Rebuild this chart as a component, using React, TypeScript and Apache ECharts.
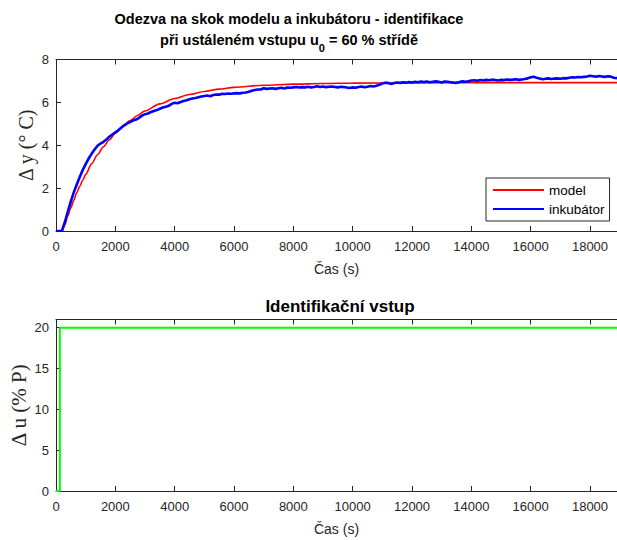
import React, { useEffect, useRef } from "react";
import * as echarts from "echarts";

// Step response of the identified first-order model, [t (s), Δy (°C)]
const modelResponse: [number, number][] = [
  [0, 0], [200, 0], [300, 0.3], [400, 0.7], [500, 1.08], [600, 1.44], [700, 1.78],
  [800, 2.08], [900, 2.37], [1000, 2.64], [1200, 3.13], [1400, 3.56], [1600, 3.93],
  [1800, 4.26], [2000, 4.56], [2250, 4.88], [2500, 5.15], [2750, 5.39], [3000, 5.6],
  [3500, 5.93], [4000, 6.18], [4500, 6.37], [5000, 6.51], [5500, 6.62], [6000, 6.7],
  [7000, 6.8], [8000, 6.85], [9000, 6.88], [10000, 6.9], [12000, 6.91], [14000, 6.92],
  [16000, 6.92], [18910, 6.92],
];

// Measured incubator temperature rise, [t (s), Δy (°C)]
const incubatorResponse: [number, number][] = [
  [0, 0], [100, 0], [200, 0.01], [300, 0.42], [400, 0.92], [500, 1.38], [600, 1.8], [700, 2.17], [800, 2.52], [900, 2.84],
  [1000, 3.12], [1100, 3.38], [1200, 3.6], [1300, 3.8], [1400, 3.98], [1500, 4.08], [1600, 4.16], [1700, 4.27], [1800, 4.4], [1900, 4.5],
  [2000, 4.6], [2100, 4.7], [2200, 4.82], [2300, 4.93], [2400, 5.02], [2500, 5.08], [2600, 5.16], [2700, 5.2], [2800, 5.28], [2900, 5.38],
  [3000, 5.45], [3100, 5.48], [3200, 5.55], [3300, 5.6], [3400, 5.64], [3500, 5.7], [3600, 5.76], [3700, 5.8], [3800, 5.84], [3900, 5.93],
  [4000, 5.98], [4100, 5.96], [4200, 6.02], [4300, 6.06], [4400, 6.1], [4500, 6.14], [4600, 6.18], [4700, 6.2], [4800, 6.24], [4900, 6.27],
  [5000, 6.3], [5100, 6.32], [5200, 6.29], [5300, 6.34], [5400, 6.37], [5500, 6.36], [5600, 6.4], [5700, 6.39], [5800, 6.41], [5900, 6.4],
  [6000, 6.42], [6100, 6.43], [6200, 6.42], [6300, 6.45], [6400, 6.46], [6500, 6.5], [6600, 6.54], [6700, 6.58], [6800, 6.6], [6900, 6.6],
  [7000, 6.66], [7100, 6.63], [7200, 6.65], [7300, 6.66], [7400, 6.63], [7500, 6.66], [7600, 6.68], [7700, 6.65], [7800, 6.69], [7900, 6.68],
  [8000, 6.7], [8100, 6.72], [8200, 6.69], [8300, 6.71], [8400, 6.7], [8500, 6.73], [8600, 6.7], [8700, 6.72], [8800, 6.75], [8900, 6.72],
  [9000, 6.74], [9100, 6.71], [9200, 6.73], [9300, 6.74], [9400, 6.72], [9500, 6.7], [9600, 6.73], [9700, 6.72], [9800, 6.69], [9900, 6.67],
  [10000, 6.7], [10100, 6.68], [10200, 6.72], [10300, 6.74], [10400, 6.71], [10500, 6.73], [10600, 6.76], [10700, 6.74], [10800, 6.78], [10900, 6.82],
  [11000, 6.88], [11100, 6.92], [11200, 6.9], [11300, 6.86], [11400, 6.9], [11500, 6.93], [11600, 6.91], [11700, 6.94], [11800, 6.92], [11900, 6.95],
  [12000, 6.93], [12100, 6.96], [12200, 6.94], [12300, 6.97], [12400, 6.95], [12500, 6.97], [12600, 6.94], [12700, 6.96], [12800, 6.98], [12900, 6.96],
  [13000, 6.93], [13100, 6.97], [13200, 6.96], [13300, 6.94], [13400, 6.92], [13500, 6.91], [13600, 6.95], [13700, 6.98], [13800, 6.96], [13900, 6.99],
  [14000, 7.02], [14100, 7.03], [14200, 7.01], [14300, 7.04], [14400, 7.02], [14500, 7.05], [14600, 7.03], [14700, 7.06], [14800, 7.04], [14900, 7.02],
  [15000, 7.05], [15100, 7.04], [15200, 7.07], [15300, 7.05], [15400, 7.06], [15500, 7.08], [15600, 7.05], [15700, 7.07], [15800, 7.09], [15900, 7.12],
  [16000, 7.17], [16100, 7.2], [16200, 7.15], [16300, 7.11], [16400, 7.08], [16500, 7.1], [16600, 7.12], [16700, 7.09], [16800, 7.11], [16900, 7.12],
  [17000, 7.1], [17100, 7.13], [17200, 7.12], [17300, 7.15], [17400, 7.17], [17500, 7.16], [17600, 7.18], [17700, 7.17], [17800, 7.19], [17900, 7.21],
  [18000, 7.24], [18100, 7.22], [18200, 7.2], [18300, 7.23], [18400, 7.21], [18500, 7.19], [18600, 7.22], [18700, 7.2], [18800, 7.15], [18910, 7.13],
];

// Identification input step, [t (s), Δu (% P)]
const inputStep: [number, number][] = [
  [0, 0], [130, 0], [130, 20], [18910, 20],
];

const seriesNames = ["model", "inkubátor"];
const timeRange = { min: 0, max: 18910, step: 2000 };
const tempRange = { min: 0, max: 8, step: 2 };
const inputRange = { min: 0, max: 21, step: 5 };

const AXIS = "#262626";
const SANS = "Liberation Sans, Arial, sans-serif";
const SERIF = "Liberation Serif, Times New Roman, serif";

const plainNumber = (v: number) => String(v);

function bottomTimeAxis(gridIndex: number) {
  return {
    type: "value" as const,
    gridIndex,
    position: "bottom" as const,
    min: timeRange.min,
    max: timeRange.max,
    interval: timeRange.step,
    name: "Čas (s)",
    nameLocation: "middle" as const,
    nameGap: 31,
    nameMoveOverlap: false,
    nameTextStyle: { fontSize: 14, color: AXIS, fontFamily: SANS },
    axisLine: { show: true, onZero: false, lineStyle: { color: AXIS, width: 1 } },
    axisTick: { show: true, inside: true, length: 5, lineStyle: { color: AXIS } },
    axisLabel: { fontSize: 13, color: AXIS, fontFamily: SANS, margin: 9, showMaxLabel: false, formatter: plainNumber },
    splitLine: { show: false },
  };
}

function topTimeAxis(gridIndex: number) {
  return {
    type: "value" as const,
    gridIndex,
    position: "top" as const,
    min: timeRange.min,
    max: timeRange.max,
    interval: timeRange.step,
    axisLine: { show: true, onZero: false, lineStyle: { color: AXIS, width: 1 } },
    axisTick: { show: true, inside: true, length: 5, lineStyle: { color: AXIS } },
    axisLabel: { show: false },
    splitLine: { show: false },
  };
}

function valueAxis(
  gridIndex: number,
  range: { min: number; max: number; step: number },
  name: string,
  gap: number,
  nameSize: number
) {
  return {
    type: "value" as const,
    gridIndex,
    min: range.min,
    max: range.max,
    interval: range.step,
    name,
    nameLocation: "middle" as const,
    nameRotate: 90,
    nameGap: gap,
    nameMoveOverlap: false,
    nameTextStyle: { fontSize: nameSize, color: AXIS, fontFamily: SERIF },
    axisLine: { show: true, onZero: false, lineStyle: { color: AXIS, width: 1 } },
    axisTick: { show: true, inside: true, length: 5, lineStyle: { color: AXIS } },
    axisLabel: {
      fontSize: 13,
      color: AXIS,
      fontFamily: SANS,
      margin: 7,
      showMaxLabel: range.max % range.step === 0,
      formatter: plainNumber,
    },
    splitLine: { show: false },
  };
}

export default function App() {
  const ref = useRef<HTMLDivElement>(null);

  useEffect(() => {
    if (!ref.current) return;
    const chart = echarts.init(ref.current, undefined, { renderer: "svg" });
    chart.setOption({
      animation: false,
      backgroundColor: "#ffffff",
      grid: [
        { left: 56, top: 59.5, width: 561, height: 171.5, outerBoundsMode: "none" },
        { left: 56, top: 319.5, width: 561, height: 171.5, outerBoundsMode: "none" },
      ],
      xAxis: [bottomTimeAxis(0), topTimeAxis(0), bottomTimeAxis(1), topTimeAxis(1)],
      yAxis: [
        valueAxis(0, tempRange, "Δ y (° C)", 20, 20),
        valueAxis(1, inputRange, "Δ u (% P)", 26.5, 21),
      ],
      legend: {
        data: seriesNames,
        orient: "vertical",
        left: 486,
        top: 178,
        padding: [5, 5, 5, 6],
        itemWidth: 51,
        itemHeight: 14,
        itemGap: 5,
        borderColor: AXIS,
        borderWidth: 1,
        backgroundColor: "#ffffff",
        itemStyle: { opacity: 0 },
        textStyle: { fontSize: 13.5, color: "#000000", fontFamily: SANS },
      },
      graphic: [
        {
          type: "text",
          x: 289,
          y: 18.5,
          style: {
            text: "Odezva na skok modelu a inkubátoru - identifikace",
            fill: "#000000",
            font: `bold 14.5px ${SANS}`,
            align: "center",
            verticalAlign: "middle",
          },
        },
        {
          type: "text",
          x: 289,
          y: 40,
          style: {
            text: "při ustáleném vstupu u{sub|0} = 60 % střídě",
            fill: "#000000",
            font: `bold 14.5px ${SANS}`,
            align: "center",
            verticalAlign: "middle",
            rich: {
              sub: {
                fill: "#000000",
                fontSize: 11,
                fontWeight: "bold",
                fontFamily: SANS,
                padding: [16, 0, 0, 0],
              },
            },
          },
        },
        {
          type: "text",
          x: 340,
          y: 306.5,
          style: {
            text: "Identifikační vstup",
            fill: "#000000",
            font: `bold 17px ${SANS}`,
            align: "center",
            verticalAlign: "middle",
          },
        },
      ],
      series: [
        {
          name: seriesNames[0],
          type: "line",
          xAxisIndex: 0,
          yAxisIndex: 0,
          data: modelResponse,
          showSymbol: false,
          symbol: "none",
          smooth: 0.3,
          smoothMonotone: "x",
          lineStyle: { color: "#ff0000", width: 1.6 },
          itemStyle: { color: "#ff0000" },
        },
        {
          name: seriesNames[1],
          type: "line",
          xAxisIndex: 0,
          yAxisIndex: 0,
          data: incubatorResponse,
          showSymbol: false,
          symbol: "none",
          lineStyle: { color: "#0000ff", width: 2.6 },
          itemStyle: { color: "#0000ff" },
        },
        {
          name: "vstup",
          type: "line",
          xAxisIndex: 2,
          yAxisIndex: 1,
          data: inputStep,
          showSymbol: false,
          symbol: "none",
          lineStyle: { color: "#00ff00", width: 2 },
          itemStyle: { color: "#00ff00" },
        },
      ],
    });
    return () => chart.dispose();
  }, []);

  return (
    <div
      ref={ref}
      style={{ position: "fixed", left: 0, top: 0, width: 617, height: 540, background: "#ffffff" }}
    />
  );
}
